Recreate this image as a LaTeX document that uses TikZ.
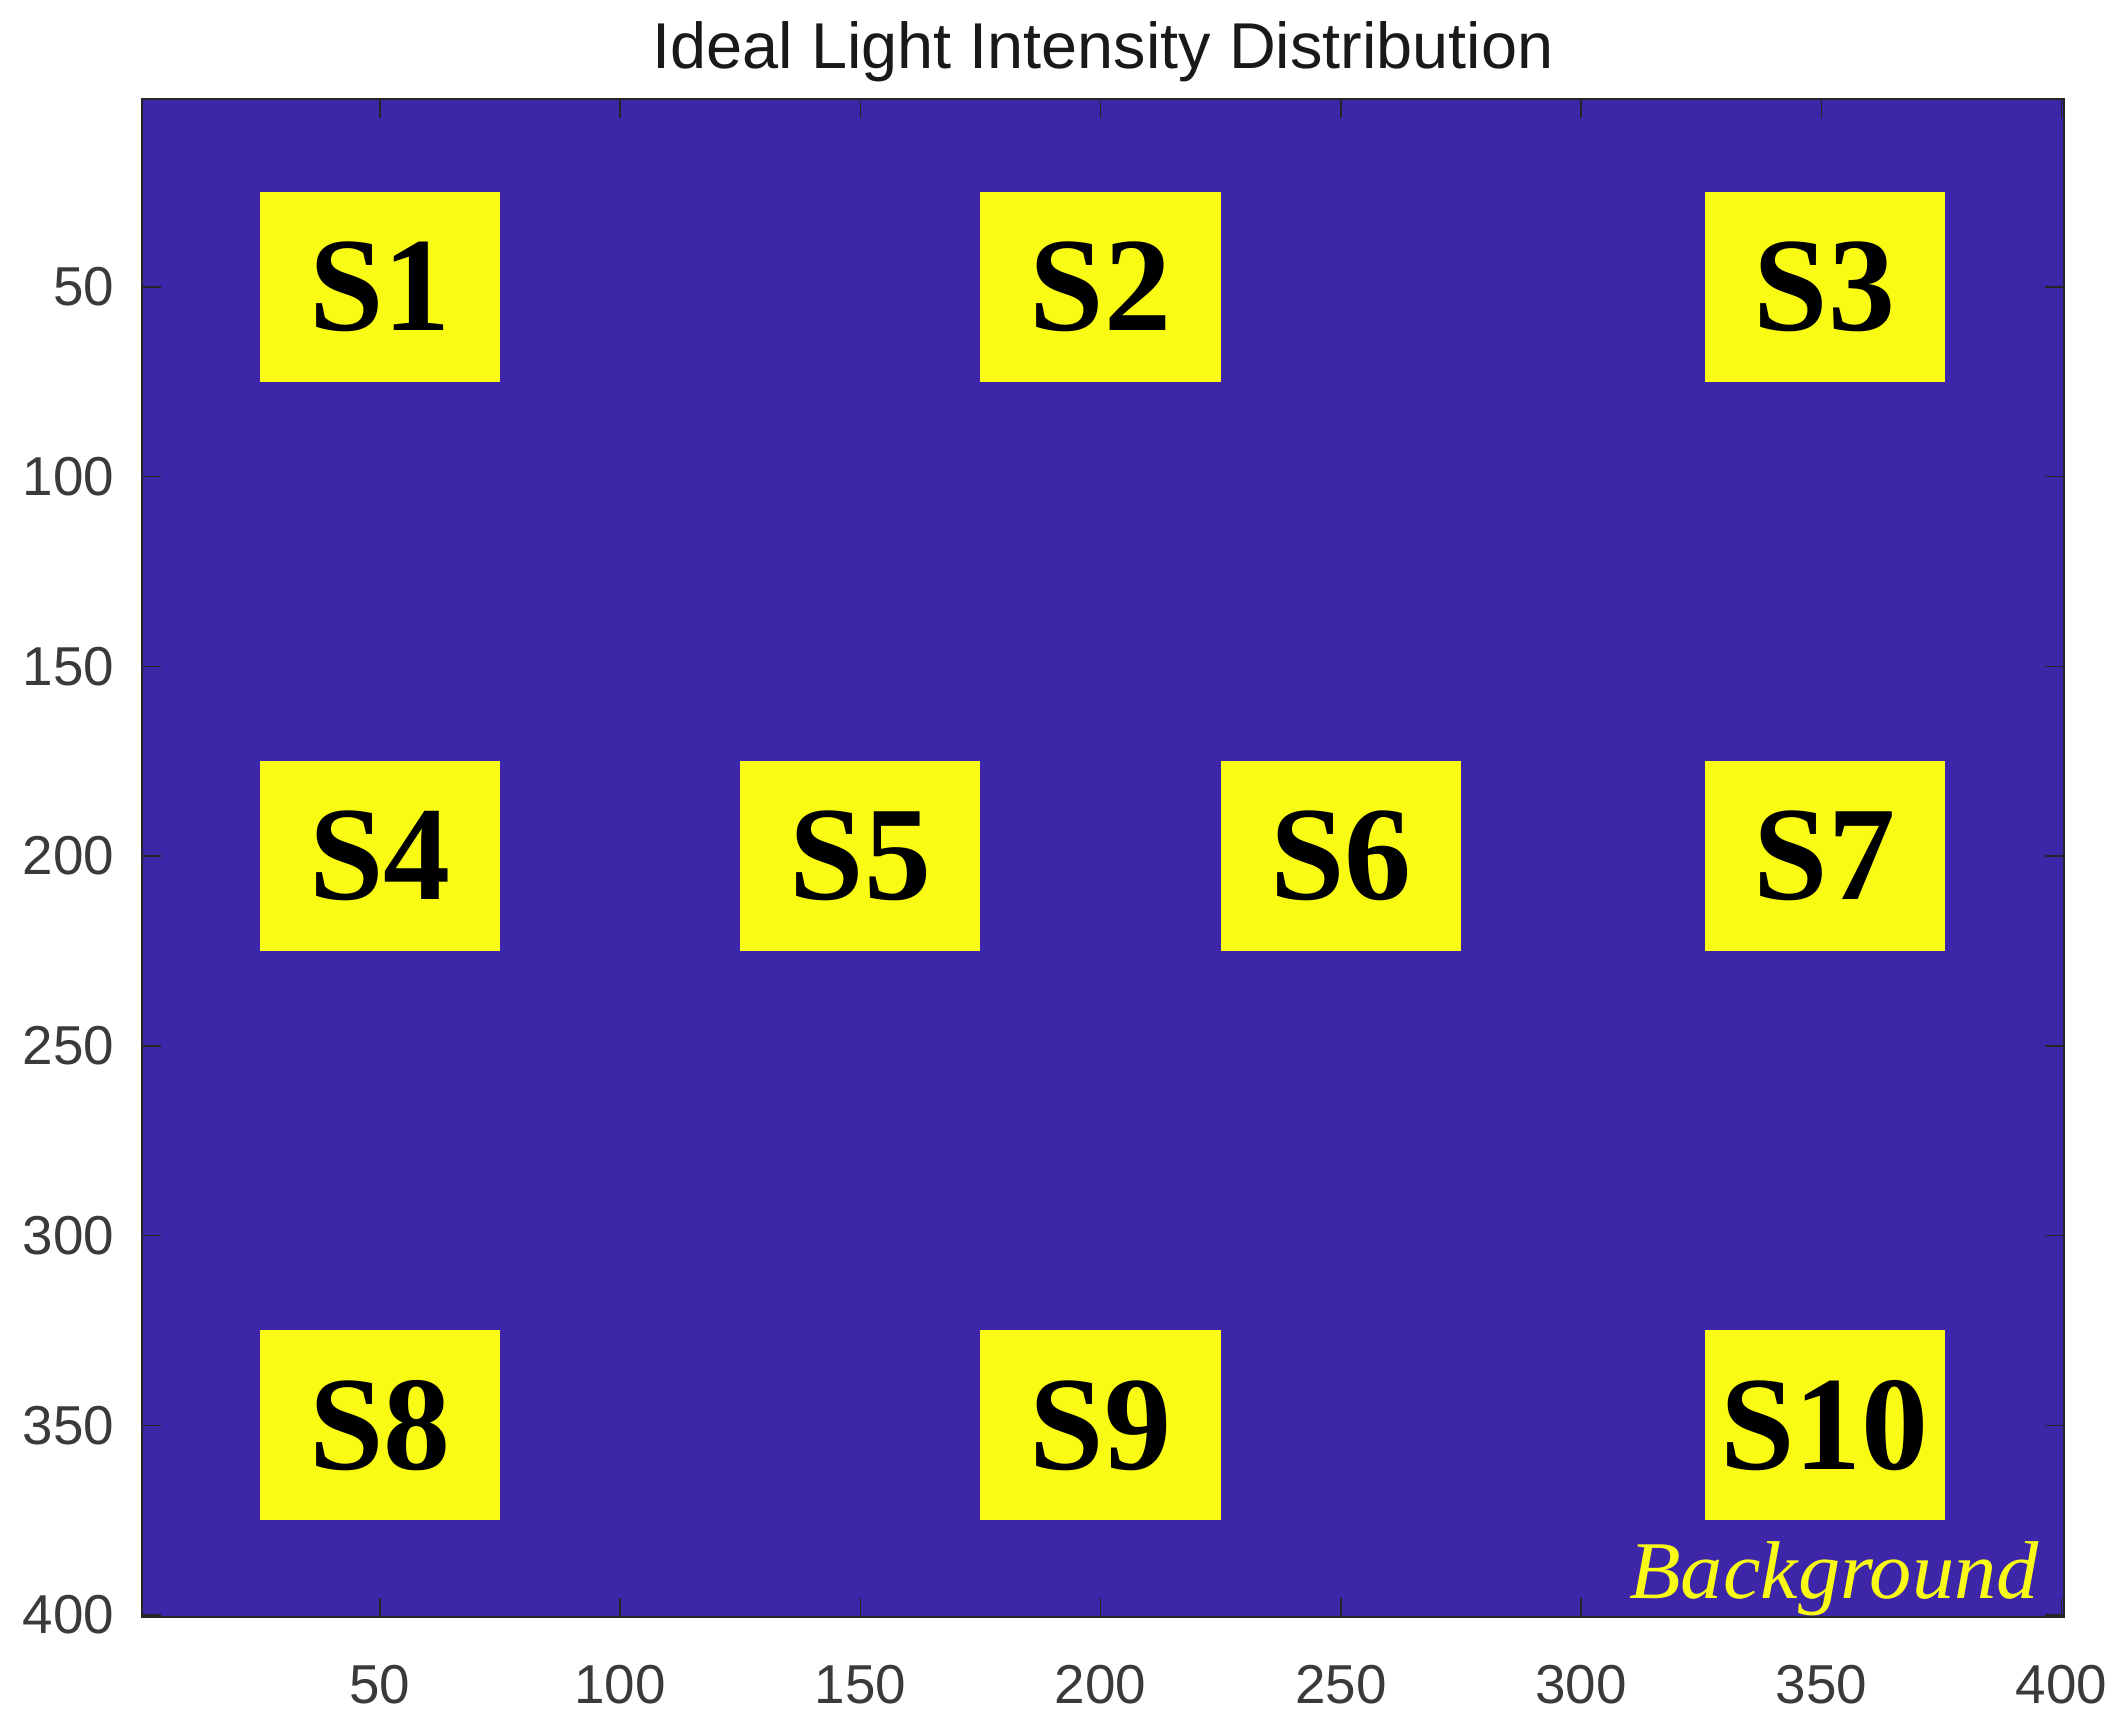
\documentclass[tikz,border=0pt]{standalone}
\usepackage{fontspec}
\setmainfont{Liberation Serif}
\setsansfont{Liberation Sans}
\definecolor{bgblue}{HTML}{3D26A8}
\definecolor{pyellow}{HTML}{F9FB15}
\definecolor{axgray}{HTML}{262626}
\definecolor{lblgray}{HTML}{3A3A3A}
\begin{document}
\begin{tikzpicture}[x=0.25pt,y=-0.25pt,
  src/.style={fill=pyellow, minimum width=60.06pt, minimum height=47.44pt, inner sep=0pt,
    font=\fontsize{33.5}{36}\selectfont\bfseries, text=black},
  axtick/.style={draw=axgray, line width=0.35pt},
  ticklbl/.style={font=\sffamily\fontsize{13.7}{16}\selectfont, text=lblgray, inner sep=0pt}]
\useasboundingbox[fill=white] (0,0) rectangle (2125,1721);
\node[font=\sffamily\fontsize{16.2}{19}\selectfont, text=black!90, inner sep=0pt, anchor=base] (title) at (1103,69) {Ideal Light Intensity Distribution};
\begin{scope}[shift={(139.6,97.1)}, xscale=4.805, yscale=3.795]
  \fill[bgblue] (0.5,0.5) rectangle (400.5,400.5);
  \node[src] (s1) at (50,50) {S1};
  \node[src] (s2) at (200,50) {S2};
  \node[src] (s3) at (350.7,50) {S3};
  \node[src] (s4) at (50,200) {S4};
  \node[src] (s5) at (150,200) {S5};
  \node[src] (s6) at (250,200) {S6};
  \node[src] (s7) at (350.7,200) {S7};
  \node[src] (s8) at (50,350) {S8};
  \node[src] (s9) at (200,350) {S9};
  \node[src] (s10) at (350.7,350) {S10};
  \foreach \t in {50,100,...,400}{
    \draw[axtick] (\t,400.5) -- (\t,395.5);
    \draw[axtick] (\t,0.5) -- (\t,5.5);
    \draw[axtick] (0.5,\t) -- (4.5,\t);
    \draw[axtick] (400.5,\t) -- (396.5,\t);
    \node[ticklbl, anchor=center] (xl\t) at (\t,418.2) {\t};
    \node[ticklbl, anchor=east] (yl\t) at (-5.12,\t) {\t};
  }
  \draw[draw=axgray, line width=0.4pt] (0.5,0.5) rectangle (400.5,400.5);
\end{scope}
\node[font=\itshape\fontsize{20.5}{24}\selectfont, text=pyellow, inner sep=0pt, anchor=base, xscale=1.03] (bg) at (1834,1599) {Background};
\end{tikzpicture}
\end{document}
